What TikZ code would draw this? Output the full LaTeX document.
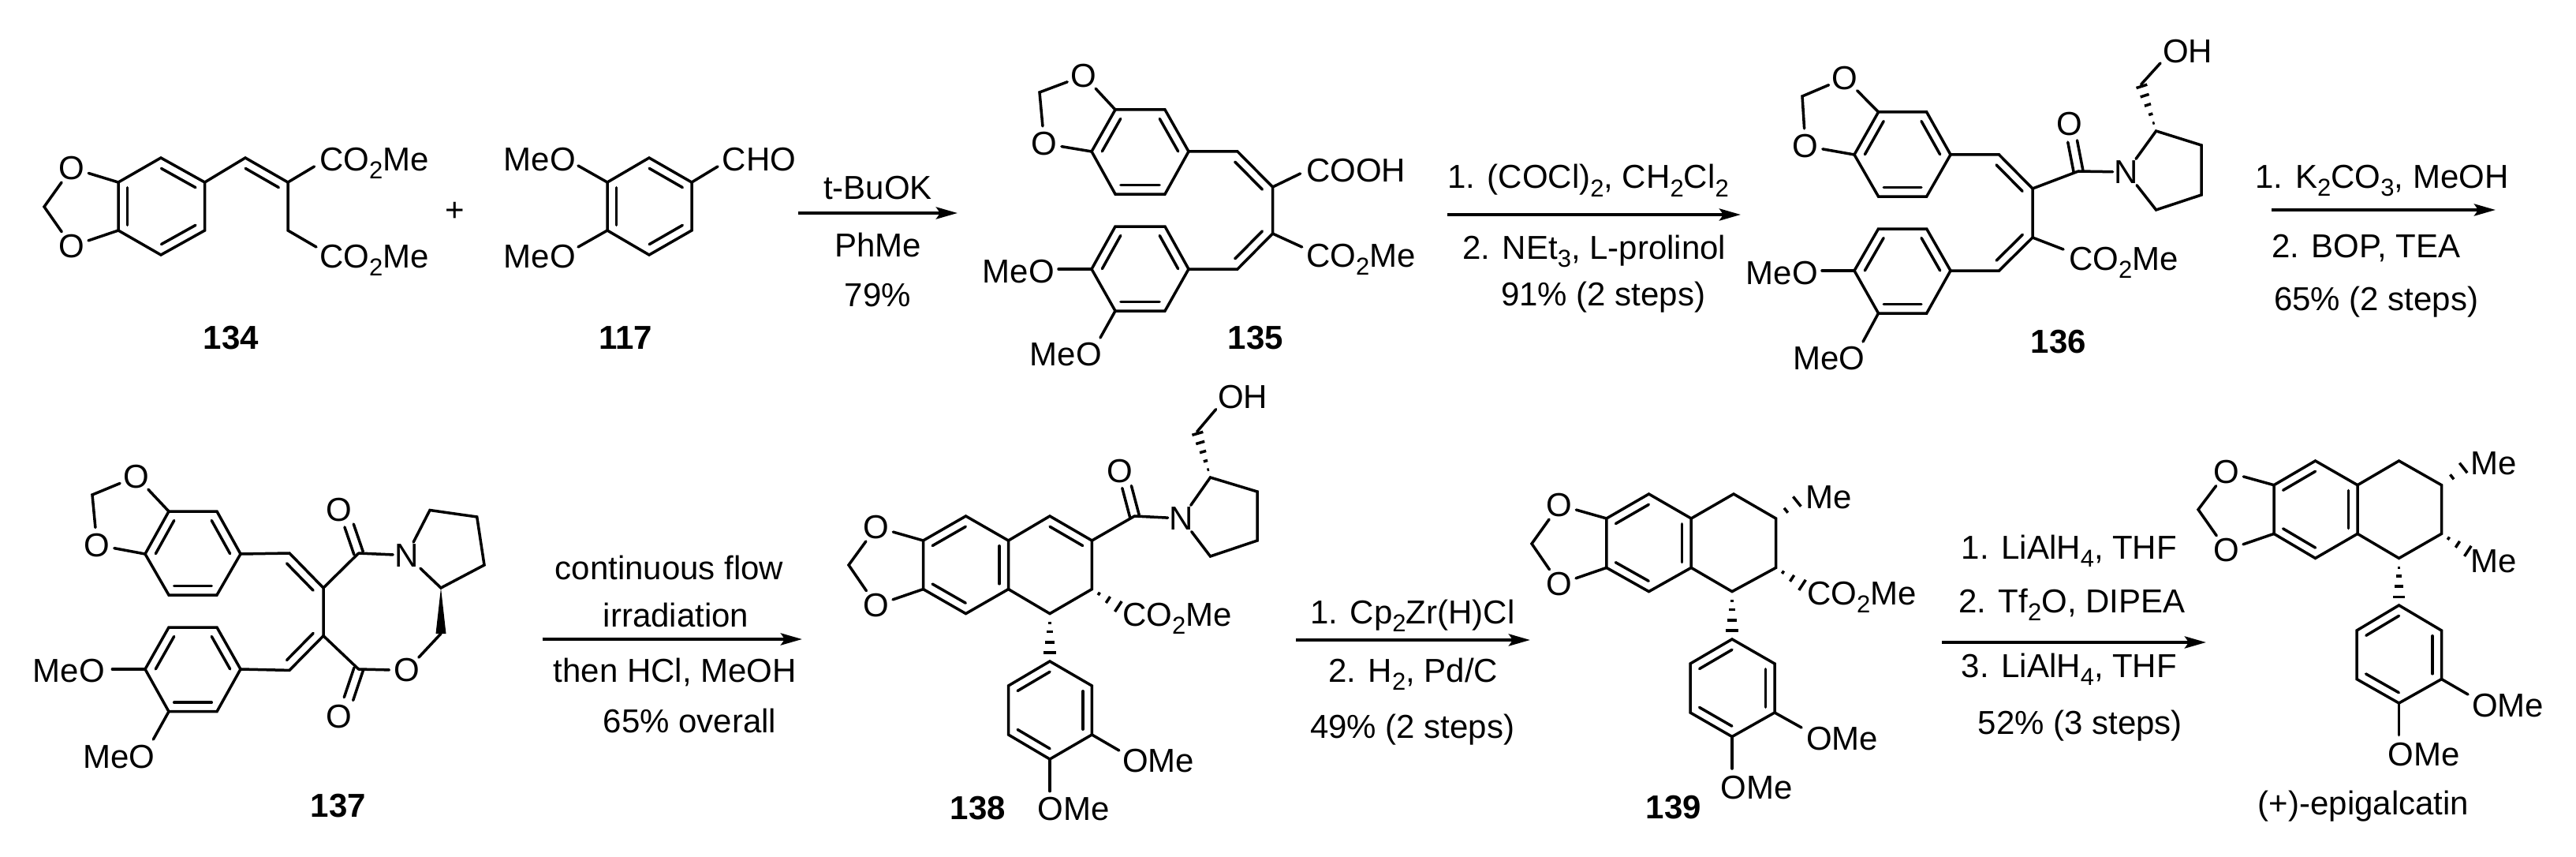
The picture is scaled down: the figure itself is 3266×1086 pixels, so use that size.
\documentclass[tikz,border=0pt]{standalone}
\usepackage{fontspec}
\setmainfont{Liberation Sans}
\usetikzlibrary{calc,arrows.meta}
\newcommand{\chemfont}{\fontsize{42}{50}\selectfont}
\newcommand{\sbs}[1]{\raisebox{-10pt}{\fontsize{31}{31}\selectfont #1}}
\newcommand{\pts}[1]{\foreach \n/\x/\y in {#1} {\coordinate (\n) at (\x,\y);}}
\newcommand{\bonds}[1]{\foreach \p/\q in {#1} {\draw[bond] (\p) -- (\q);}}
\newcommand{\ringsix}[2]{\foreach \x/\y [count=\i] in {#2} {\coordinate (#1\i) at (\x,\y);}
  \draw[bond] (#11) -- (#12) -- (#13) -- (#14) -- (#15) -- (#16) -- cycle;}
\newcommand{\dbl}[2]{\draw[bond] ($(#1)!.11!(#2)!11.5pt!-90:(#2)$) -- ($(#2)!.11!(#1)!11.5pt!90:(#1)$);}
\newcommand{\dblc}[2]{\draw[bond] ($(#1)!6pt!90:(#2)$) -- ($(#2)!6pt!-90:(#1)$);
  \draw[bond] ($(#1)!6pt!-90:(#2)$) -- ($(#2)!6pt!90:(#1)$);}
\newcommand{\dioxole}[6]{\node[oatom] (#1a) at (#2) {O}; \node[oatom] (#1b) at (#3) {O};
  \coordinate (#1c) at (#4); \draw[bond] (#5) -- (#1a) -- (#1c) -- (#1b) -- (#6);}
\newcommand{\hashw}[4]{\foreach \t in {#3} {\pgfmathsetmacro\hw{\t*#4}
  \draw[hashst] ($(#1)!\t!(#2)!\hw pt!90:(#2)$) -- ($(#1)!\t!(#2)!\hw pt!-90:(#2)$);}}
\tikzset{
  bond/.style={line width=3.5pt,line cap=round,line join=miter},
  hashst/.style={line width=3.5pt,line cap=butt},
  rxn/.style={line width=4.3pt,-{Stealth[length=27pt,width=15pt,inset=5pt]}},
  txt/.style={inner sep=0pt,anchor=base west,font=\chemfont},
  rtxt/.style={inner sep=0pt,anchor=base east,font=\chemfont},
  ctxt/.style={inner sep=0pt,anchor=base,font=\chemfont},
  num/.style={inner sep=0pt,anchor=center,font=\chemfont\bfseries},
  oatom/.style={circle,inner sep=0pt,font=\chemfont},
  natom/.style={rectangle,inner sep=2pt,font=\chemfont},
}
\begin{document}
\begin{tikzpicture}[x=1pt,y=-1pt]
\useasboundingbox (0,0) rectangle (3266,1086);
% ---------- 134
\ringsix{a}{204/200,259.6/231,259.6/292,204/323,150/292,150/231}
\dbl{a1}{a2}\dbl{a3}{a4}\dbl{a5}{a6}
\dioxole{ad}{91,213}{91,312}{56,262}{a6}{a5}
\pts{av1/311/200,av2/365/231,av3/365/292,ae1/398.5/211,ae2/401/313}
\draw[bond] (a2) -- (av1) -- (av2) -- (ae1);
\draw[bond] (av2) -- (av3) -- (ae2);
\dbl{av1}{av2}
\node[txt] (at1) at (405,217) {CO\sbs{2}Me};
\node[txt] (at2) at (405,339) {CO\sbs{2}Me};
\node[num] (n134) at (293,428) {134};
\node[font=\chemfont,inner sep=0pt] (plus) at (577,268) {+};
% ---------- 117
\ringsix{b}{823/200,877/231,877/292,823/323,770/292,770/231}
\dbl{b1}{b2}\dbl{b3}{b4}\dbl{b5}{b6}
\pts{be1/733/210,be2/733/313,be3/910/211}
\bonds{b6/be1,b5/be2,b2/be3}
\node[rtxt] (bt1) at (730,217) {MeO};
\node[rtxt] (bt2) at (730,339) {MeO};
\node[txt] (bt3) at (915.5,217) {CHO};
\node[num] (n117) at (793,428) {117};
% ---------- arrow 1
\pts{r1s/1012/270,r1e/1214/270}
\draw[rxn] (r1s) -- (r1e);
\node[ctxt] (r1a) at (1113,252) {t-BuOK};
\node[ctxt] (r1b) at (1113,325) {PhMe};
\node[ctxt] (r1c) at (1113,388) {79\%};
% ---------- 135
\ringsix{c}{1414/139,1477/139,1507/192,1477/246,1414/246,1384/192}
\dbl{c2}{c3}\dbl{c4}{c5}\dbl{c6}{c1}
\dioxole{cd}{1374,96}{1324,182}{1318,117}{c1}{c6}
\ringsix{d}{1414/287,1477/287,1507/341,1477/394,1414/394,1384/341}
\dbl{d2}{d3}\dbl{d4}{d5}\dbl{d6}{d1}
\pts{cv1/1569/192,cv2/1613.5/237,cv3/1613.5/296,cv4/1569/341,ce1/1648.6/220,ce2/1650.7/313,ce3/1342/341,ce4/1395/428}
\draw[bond] (c3) -- (cv1) -- (cv2) -- (cv3) -- (cv4) -- (d3);
\dbl{cv1}{cv2}\dbl{cv3}{cv4}
\bonds{cv2/ce1,cv3/ce2,d6/ce3,d5/ce4}
\node[txt] (ct1) at (1656,230) {COOH};
\node[txt] (ct2) at (1656,338) {CO\sbs{2}Me};
\node[rtxt] (ct3) at (1337,358) {MeO};
\node[rtxt] (ct4) at (1397,463) {MeO};
\node[num] (n135) at (1592,428) {135};
% ---------- arrow 2
\pts{r2s/1835/272,r2e/2207/272}
\draw[rxn] (r2s) -- (r2e);
\node[txt] (r2a) at (1835,239) {1. (COCl)\sbs{2}, CH\sbs{2}Cl\sbs{2}};
\node[txt] (r2b) at (1854,328) {2. NEt\sbs{3}, L-prolinol};
\node[txt] (r2c) at (1903,387) {91\% (2 steps)};
% ---------- 136
\ringsix{e}{2381.5/142,2442.7/142,2473/196,2442.7/249,2381.5/249,2351/196}
\dbl{e2}{e3}\dbl{e4}{e5}\dbl{e6}{e1}
\dioxole{ed}{2339,99}{2289,185}{2285,122}{e1}{e6}
\ringsix{f}{2381.5/290,2442.7/290,2473/343,2442.7/397,2381.5/397,2351/343}
\dbl{f2}{f3}\dbl{f4}{f5}\dbl{f6}{f1}
\pts{ev1/2534.5/196,ev2/2577/239,ev3/2577/301,ev4/2534.5/343,ecc/2635/217,eoe/2627.6/179,ee2/2616/316,ee3/2310/343,ee4/2362/433,
 ep1/2733.6/166,ep2/2791/184,ep3/2791/247,ep4/2733.6/266,eh1/2714.6/107,eh2/2739/80}
\draw[bond] (e3) -- (ev1) -- (ev2) -- (ev3) -- (ev4) -- (f3);
\dbl{ev1}{ev2}\dbl{ev3}{ev4}
\draw[bond] (ev2) -- (ecc);
\dblc{ecc}{eoe}
\node[oatom] (eo) at (2623.5,157) {O};
\node[natom] (en) at (2696,218) {N};
\draw[bond] (ecc) -- (en);
\draw[bond] (en) -- (ep1) -- (ep2) -- (ep3) -- (ep4) -- (en);
\hashw{ep1}{eh1}{.17,.36,.56,.76,.96}{7.5}
\draw[bond] (eh1) -- (eh2);
\node[txt] (eoh) at (2742,80) {OH};
\bonds{ev3/ee2,f6/ee3,f5/ee4}
\node[txt] (et2) at (2623,342) {CO\sbs{2}Me};
\node[rtxt] (et3) at (2305,360) {MeO};
\node[rtxt] (et4) at (2364.5,468) {MeO};
\node[num] (n136) at (2610,433) {136};
% ---------- arrow 3
\pts{r3s/2880/266,r3e/3164/266}
\draw[rxn] (r3s) -- (r3e);
\node[txt] (r3a) at (2859.4,238) {1. K\sbs{2}CO\sbs{3}, MeOH};
\node[txt] (r3b) at (2880,326) {2. BOP, TEA};
\node[txt] (r3c) at (2883,393) {65\% (2 steps)};
% ---------- 137
\ringsix{g}{214/648,275/648,305/702,275/754,214/754,184/702}
\dbl{g2}{g3}\dbl{g4}{g5}\dbl{g6}{g1}
\dioxole{gd}{172.6,604}{123,690.6}{117,627}{g1}{g6}
\ringsix{h}{214/795,275/795,305/848,275/901.7,214/901.7,184/848}
\dbl{h2}{h3}\dbl{h4}{h5}\dbl{h6}{h1}
\pts{gv1/367/701,gv2/410/745,gv3/410/805.7,gv4/367/849.4,gc1/454.6/701,gc2/454.6/848,ge1/442.6/666,ge2/442/885.6,
 gp1/545/646.5,gp2/604.7/655,gp3/614/716,gp4/559/745,gw/559/803,ge3/142.4/848,ge4/194.3/937}
\draw[bond] (g3) -- (gv1) -- (gv2) -- (gv3) -- (gv4) -- (h3);
\dbl{gv1}{gv2}\dbl{gv3}{gv4}
\bonds{gv2/gc1,gv3/gc2,h6/ge3,h5/ge4}
\dblc{gc1}{ge1}\dblc{gc2}{ge2}
\node[oatom] (go1) at (430,646.5) {O};
\node[oatom] (go2) at (430,908) {O};
\node[natom] (gn) at (515.6,703.7) {N};
\node[oatom] (go3) at (515.6,849.4) {O};
\draw[bond] (gc1) -- (gn);
\draw[bond] (gc2) -- (go3);
\draw[bond] (gn) -- (gp1) -- (gp2) -- (gp3) -- (gp4) -- (gn);
\fill (gp4) -- ($(gw)!6.5pt!90:(gp4)$) -- ($(gw)!6.5pt!-90:(gp4)$) -- cycle;
\draw[bond] (gw) -- (go3);
\node[rtxt] (gt3) at (133,864) {MeO};
\node[rtxt] (gt4) at (196.4,973) {MeO};
\node[num] (n137) at (429,1021) {137};
% ---------- arrow 4
\pts{r4s/687.5/810,r4e/1017/810}
\draw[rxn] (r4s) -- (r4e);
\node[txt] (r4a) at (703.6,734) {continuous flow};
\node[txt] (r4b) at (764.6,794) {irradiation};
\node[txt] (r4c) at (701.5,864) {then HCl, MeOH};
\node[txt] (r4d) at (764.6,928) {65\% overall};
% ---------- 138
\ringsix{k}{1224.5/654,1278.5/685,1278.5/746.6,1224.5/777.6,1170.5/746.6,1170.5/685}
\dbl{k6}{k1}\dbl{k2}{k3}\dbl{k4}{k5}
\pts{k7/1331/654,k8/1384.4/685,k9/1384.4/746.6,k10/1331/777.6,kc/1438.4/654,koe/1428.6/617,
 kp1/1534.5/605,kp2/1594/623,kp3/1594/685,kp4/1534.5/705,kh1/1517.7/547,kh2/1541.6/518.7,kh3/1418.5/769,kh4/1331/838,ke1/1418.8/951,ke2/1331/1002.6}
\draw[bond] (k2) -- (k7) -- (k8) -- (k9) -- (k10) -- (k3);
\dbl{k7}{k8}
\dioxole{kd}{1111,668}{1111,767}{1076,716}{k6}{k5}
\draw[bond] (k8) -- (kc);
\dblc{kc}{koe}
\node[oatom] (ko) at (1419.5,597) {O};
\node[natom] (kn) at (1498,657) {N};
\draw[bond] (kc) -- (kn);
\draw[bond] (kn) -- (kp1) -- (kp2) -- (kp3) -- (kp4) -- (kn);
\hashw{kp1}{kh1}{.17,.36,.56,.76,.96}{7.5}
\draw[bond] (kh1) -- (kh2);
\node[txt] (koh) at (1544,517) {OH};
\hashw{k9}{kh3}{.26,.6,.98}{8}
\node[txt] (kt1) at (1423,793.5) {CO\sbs{2}Me};
\hashw{k10}{kh4}{.2,.38,.6,.82}{9.5}
\ringsix{m}{1331/838,1384.4/869,1384.4/931,1331/962,1278.5/931,1278.5/869}
\dbl{m2}{m3}\dbl{m4}{m5}\dbl{m6}{m1}
\bonds{m3/ke1,m4/ke2}
\node[txt] (kt2) at (1423,978.4) {OMe};
\node[txt] (kt3) at (1315.7,1039) {OMe};
\node[num] (n138) at (1240,1024) {138};
% ---------- arrow 5
\pts{r5s/1643/811,r5e/1940/811}
\draw[rxn] (r5s) -- (r5e);
\node[txt] (r5a) at (1661,790.7) {1. Cp\sbs{2}Zr(H)Cl};
\node[txt] (r5b) at (1684,864) {2. H\sbs{2}, Pd/C};
\node[txt] (r5c) at (1661,935) {49\% (2 steps)};
% ---------- 139
\ringsix{p}{2090.5/626,2144.2/657,2144.2/719.4,2090.5/749.6,2036.8/719.4,2036.8/657}
\dbl{p6}{p1}\dbl{p2}{p3}\dbl{p4}{p5}
\dioxole{pd}{1977,640}{1977,740}{1942,689}{p6}{p5}
\pts{p7/2198/626,p8/2251.6/657,p9/2251.6/719.4,p10/2196/749.6,ph1/2282/632.6,ph2/2285.7/741.8,ph3/2196/810,pe1/2284/922,pe2/2196/974}
\draw[bond] (p2) -- (p7) -- (p8) -- (p9) -- (p10) -- (p3);
\hashw{p8}{ph1}{.42,.88}{9}
\node[txt] (pt1) at (2288.8,644) {Me};
\hashw{p9}{ph2}{.26,.6,.98}{8}
\node[txt] (pt2) at (2291,766) {CO\sbs{2}Me};
\hashw{p10}{ph3}{.2,.38,.6,.82}{9.5}
\ringsix{q}{2196/810,2250/841,2250/903,2196/933.5,2143/903,2143/841}
\dbl{q2}{q3}\dbl{q4}{q5}\dbl{q6}{q1}
\bonds{q3/pe1,q4/pe2}
\node[txt] (pt3) at (2290,950) {OMe};
\node[txt] (pt4) at (2181.4,1012) {OMe};
\node[num] (n139) at (2122,1023) {139};
% ---------- arrow 6
\pts{r6s/2462/814,r6e/2797/814}
\draw[rxn] (r6s) -- (r6e);
\node[txt] (r6a) at (2486.6,708) {1. LiAlH\sbs{4}, THF};
\node[txt] (r6b) at (2483,776.5) {2. Tf\sbs{2}O, DIPEA};
\node[txt] (r6c) at (2486.6,858.7) {3. LiAlH\sbs{4}, THF};
\node[txt] (r6d) at (2507.6,930) {52\% (3 steps)};
% ---------- (+)-epigalcatin
\ringsix{s}{2935.5/584,2989/614.7,2989/676.4,2935.5/707.4,2883/676.4,2883/614.7}
\dbl{s6}{s1}\dbl{s2}{s3}\dbl{s4}{s5}
\dioxole{sd}{2823,598}{2823,697}{2787,645.7}{s6}{s5}
\pts{s7/3041.5/584,s8/3095.5/614.7,s9/3095.5/676.4,s10/3041.5/707.4,sh1/3127/590,sh2/3129.5/698.8,sh3/3041.5/767,se1/3129/880,se2/3041.5/931.6}
\draw[bond] (s2) -- (s7) -- (s8) -- (s9) -- (s10) -- (s3);
\hashw{s8}{sh1}{.42,.88}{9}
\node[txt] (st1) at (3132.7,601) {Me};
\hashw{s9}{sh2}{.26,.6,.98}{8}
\node[txt] (st2) at (3132.7,725) {Me};
\hashw{s10}{sh3}{.2,.38,.6,.82}{9.5}
\ringsix{u}{3041.5/767,3095.5/799,3095.5/860.6,3041.5/891,2988/860.6,2988/799}
\dbl{u2}{u3}\dbl{u4}{u5}\dbl{u6}{u1}
\bonds{u3/se1,u4/se2}
\node[txt] (st3) at (3134,908.5) {OMe};
\node[txt] (st4) at (3027.5,970) {OMe};
\node[txt] (sname) at (2862.6,1032.5) {(+)-epigalcatin};
\end{tikzpicture}
\end{document}
